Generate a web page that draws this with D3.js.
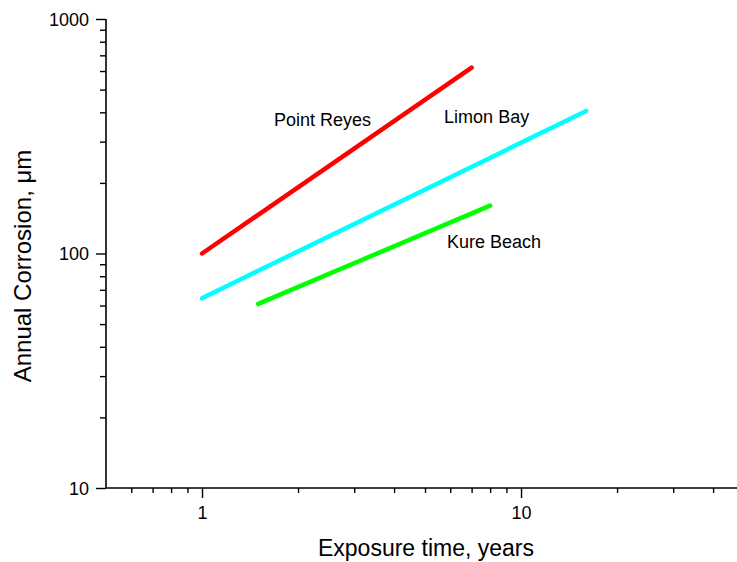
<!DOCTYPE html>
<html>
<head>
<meta charset="utf-8">
<script src="https://cdn.jsdelivr.net/npm/d3@7"></script>
<style>
  html, body { margin: 0; padding: 0; background: #fff; }
  svg { display: block; font-family: "Liberation Sans", Arial, sans-serif; }
</style>
</head>
<body>
<svg id="chart" width="737" height="562"></svg>
<script>
// Power-law corrosion fits (straight lines on log-log axes): endpoints of each site
const sites = ["Point Reyes", "Limon Bay", "Kure Beach"];
const siteColors = ["#ff0000", "#00ffff", "#00ff00"];
const years = [[1, 7], [1, 16], [1.5, 8]];
const corrosion = [[100, 620], [64.5, 405], [61, 160]];

// Axis ticks
const xMajorTicks = [1, 10];
const xMinorTicks = [0.6, 0.7, 0.8, 0.9, 2, 3, 4, 5, 6, 7, 8, 9, 20, 30, 40];
const yMajorTicks = [10, 100, 1000];
const yMinorTicks = [20, 30, 40, 50, 60, 70, 80, 90, 200, 300, 400, 500, 600, 700, 800, 900];

// Label anchors (data coordinates)
const labelX = [1.68, 5.74, 5.86];
const labelY = [350, 360, 105.6];

const svg = d3.select("#chart");
const plotLeft = 106, plotTop = 19, plotBottom = 488, plotRight = 106 + 319 * 2;

const x = d3.scaleLog().domain([0.5, 50]).range([plotLeft, plotRight]);
const y = d3.scaleLog().domain([10, 1000]).range([plotBottom, plotTop]);

// X axis
const gx = svg.append("g").attr("transform", `translate(0,${plotBottom})`);
gx.call(d3.axisBottom(x).tickValues(xMajorTicks).tickSize(10).tickPadding(8).tickFormat(d3.format("d")));
gx.append("g").call(d3.axisBottom(x).tickValues(xMinorTicks).tickSize(5).tickFormat(""));
// Y axis
const gy = svg.append("g").attr("transform", `translate(${plotLeft},0)`);
gy.call(d3.axisLeft(y).tickValues(yMajorTicks).tickSize(10).tickPadding(7).tickFormat(d3.format("d")));
gy.append("g").call(d3.axisLeft(y).tickValues(yMinorTicks).tickSize(6).tickFormat(""));

svg.selectAll(".domain").filter(function () { return this.parentNode.parentNode !== svg.node(); }).remove();
svg.selectAll(".domain").attr("stroke", "#000").attr("stroke-width", 1.6);
svg.selectAll(".tick line").attr("stroke", "#000").attr("stroke-width", 1.4);
svg.selectAll(".tick text").attr("font-size", 18).attr("fill", "#000")
  .attr("font-family", "'Liberation Sans', Arial, sans-serif");
gx.selectAll(".tick text").attr("dy", "0.71em");
gy.selectAll(".tick text").attr("dy", "0.36em");

// Plain axis lines without end caps
gx.select(".domain").attr("d", `M${plotLeft},0H${plotRight}`);
gy.select(".domain").attr("d", `M0,${plotBottom}V${plotTop}`);

// Fit lines
const line = d3.line().x(d => x(d[0])).y(d => y(d[1]));
sites.forEach((s, i) => {
  const pts = years[i].map((t, j) => [t, corrosion[i][j]]);
  svg.append("path")
    .attr("d", line(pts))
    .attr("fill", "none")
    .attr("stroke", siteColors[i])
    .attr("stroke-width", 4.5)
    .attr("stroke-linecap", "round");
});

// Site labels
sites.forEach((s, i) => {
  svg.append("text")
    .attr("x", x(labelX[i]))
    .attr("y", y(labelY[i]))
    .attr("font-size", 18)
    .attr("fill", "#000")
    .text(s);
});

// Axis titles
svg.append("text")
  .attr("x", 426).attr("y", 556)
  .attr("text-anchor", "middle")
  .attr("font-size", 23)
  .text("Exposure time, years");

svg.append("text")
  .attr("transform", "translate(31,266) rotate(-90)")
  .attr("text-anchor", "middle")
  .attr("font-size", 24)
  .text("Annual Corrosion, μm");
</script>
</body>
</html>
